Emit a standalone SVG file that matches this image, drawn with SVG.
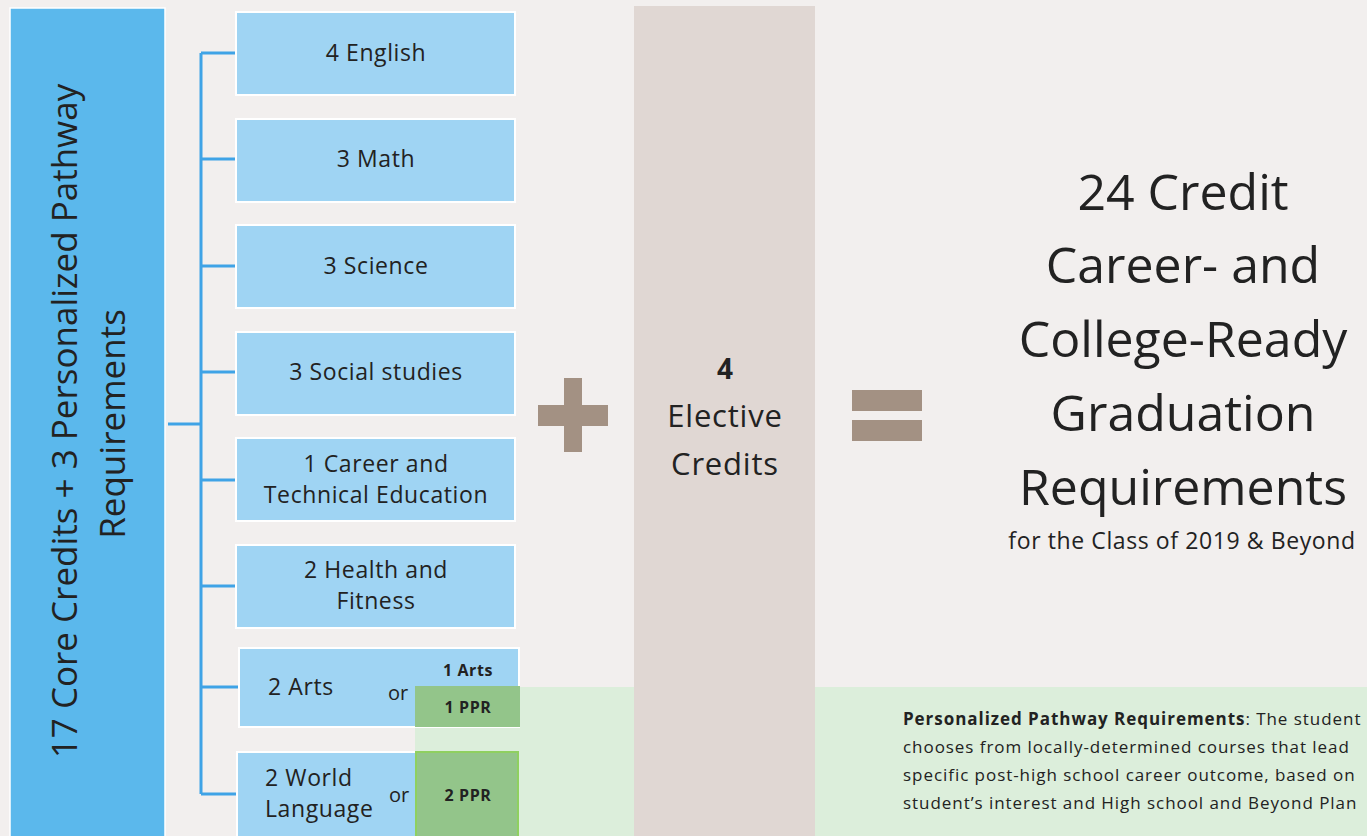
<svg xmlns="http://www.w3.org/2000/svg" width="1367" height="836" viewBox="0 0 1367 836">
<style>
text{font-family:"Open Sans","Liberation Sans",sans-serif;fill:#222}
.box{fill:#9FD4F3;stroke:#FFFFFF;stroke-width:2}
.ppr{fill:#93C58A}
.lbl{font-size:23px;letter-spacing:0.6px;text-anchor:middle}
.sm{font-size:16px;font-weight:bold;letter-spacing:0.6px;text-anchor:middle}
.conn{stroke:#3FA3E6;stroke-width:3;fill:none}
.sym{fill:#A39183}
.para{font-size:17px;letter-spacing:0.95px}
</style>
<rect width="1367" height="836" fill="#F2EFEE"/>
<rect x="415" y="687" width="952" height="149" fill="#DCEEDB"/>
<g id="core">
<rect x="10" y="8" width="155" height="830" fill="#5BB8EC" stroke="#FFFFFF" stroke-width="1.5"/>
<text transform="translate(77,421) rotate(-90)" font-size="35" text-anchor="middle">17 Core Credits + 3 Personalized Pathway</text>
<text transform="translate(125,424) rotate(-90)" font-size="35" text-anchor="middle">Requirements</text>
</g>
<g id="connectors">
<path class="conn" d="M168 424H201M201 53V794M201 53H235M201 159H235M201 266H235M201 372H235M201 480H235M201 586H235M201 687H238M201 794H237"/>
</g>
<g id="english"><rect class="box" x="236" y="12" width="279" height="83"/><text class="lbl" x="376" y="61">4 English</text></g>
<g id="math"><rect class="box" x="236" y="119" width="279" height="83"/><text class="lbl" x="376" y="167">3 Math</text></g>
<g id="science"><rect class="box" x="236" y="225" width="279" height="83"/><text class="lbl" x="376" y="274">3 Science</text></g>
<g id="social"><rect class="box" x="236" y="332" width="279" height="83"/><text class="lbl" x="376" y="380">3 Social studies</text></g>
<g id="cte"><rect class="box" x="236" y="438" width="279" height="83"/><text class="lbl" x="376" y="472">1 Career and</text><text class="lbl" x="376" y="503">Technical Education</text></g>
<g id="health"><rect class="box" x="236" y="545" width="279" height="83"/><text class="lbl" x="376" y="578">2 Health and</text><text class="lbl" x="376" y="609">Fitness</text></g>
<g id="arts">
<rect class="box" x="239" y="648" width="280" height="79"/>
<rect class="ppr" x="415" y="686" width="105" height="41"/>
<text x="268" y="695" font-size="23" letter-spacing="0.6">2 Arts</text>
<text x="388" y="700" font-size="20">or</text>
<text class="sm" x="468" y="676">1 Arts</text>
<text class="sm" x="468" y="713">1 PPR</text>
</g>
<g id="worldlang">
<rect class="box" x="237" y="752" width="281" height="86"/>
<rect class="ppr" x="416" y="752" width="102" height="86" stroke="#8FD060" stroke-width="2"/>
<text x="265" y="786" font-size="23" letter-spacing="0.6">2 World</text>
<text x="265" y="817" font-size="23" letter-spacing="0.6">Language</text>
<text x="389" y="802" font-size="20">or</text>
<text class="sm" x="468" y="801">2 PPR</text>
</g>
<g id="plus"><rect class="sym" x="538" y="405" width="70" height="21"/><rect class="sym" x="564" y="378" width="18" height="74"/></g>
<g id="elective">
<rect x="634" y="6" width="181" height="830" fill="#E0D7D3"/>
<text x="725" y="379" font-size="28" font-weight="bold" text-anchor="middle">4</text>
<text x="725" y="427" font-size="31" letter-spacing="0.8" text-anchor="middle">Elective</text>
<text x="725" y="475" font-size="31" letter-spacing="0.8" text-anchor="middle">Credits</text>
</g>
<g id="equals"><rect class="sym" x="852" y="390" width="70" height="21"/><rect class="sym" x="852" y="420" width="70" height="21"/></g>
<g id="title" font-size="50" text-anchor="middle">
<text x="1183" y="210">24 Credit</text>
<text x="1183" y="283">Career- and</text>
<text x="1183" y="357">College-Ready</text>
<text x="1183" y="431">Graduation</text>
<text x="1183" y="505">Requirements</text>
<text x="1182" y="549" font-size="23" letter-spacing="0.6">for the Class of 2019 &amp; Beyond</text>
</g>
<g id="note">
<text x="903" y="725" class="para"><tspan font-weight="bold">Personalized Pathway Requirements</tspan>: The student</text>
<text x="903" y="753" class="para">chooses from locally-determined courses that lead</text>
<text x="903" y="781" class="para">specific post-high school career outcome, based on</text>
<text x="903" y="809" class="para">student’s interest and High school and Beyond Plan</text>
</g>
</svg>
